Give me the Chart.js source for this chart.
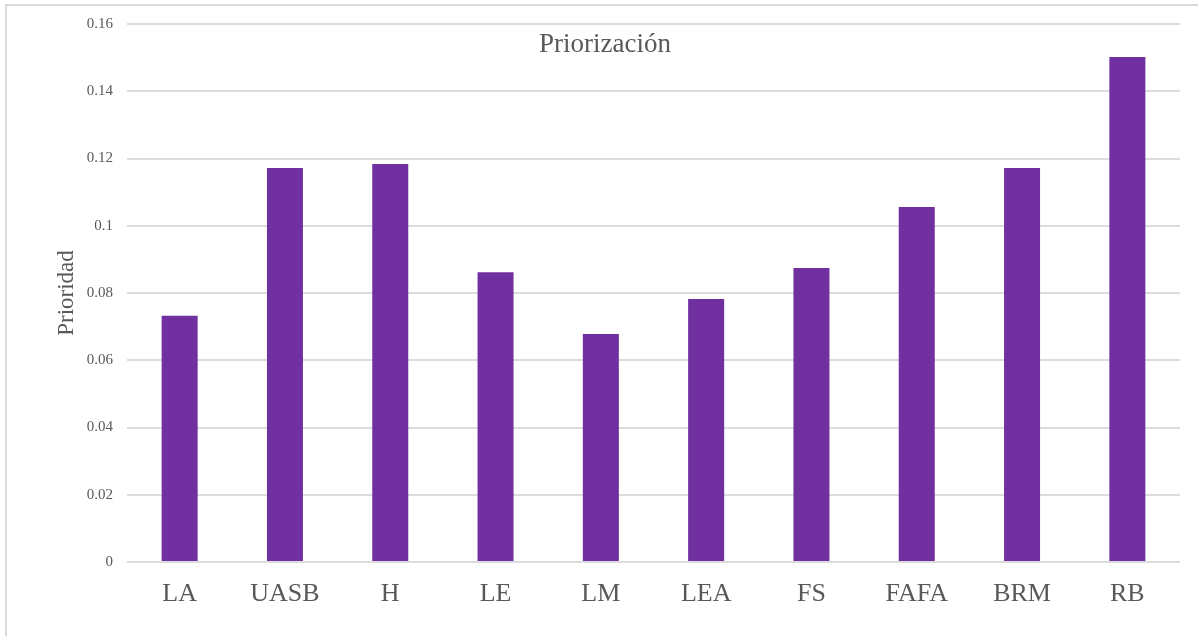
<!DOCTYPE html>
<html>
<head>
<meta charset="utf-8">
<script src="https://cdn.jsdelivr.net/npm/chart.js@4"></script>
<style>
  html,body{margin:0;padding:0;background:#fff;width:1198px;height:636px;overflow:hidden}
  #marco{position:absolute;left:5px;top:4px;width:1300px;height:700px;border-left:2px solid #d9d9d9;border-top:2px solid #d9d9d9}
  #titulo{position:absolute;left:0;width:1210px;top:30px;text-align:center;font-family:"Liberation Serif","Times New Roman",serif;font-size:27px;line-height:27px;color:#595959}
  #grafico{position:absolute;left:0;top:0}
</style>
</head>
<body>
<div id="marco"></div>
<canvas id="grafico" width="1198" height="636"></canvas>
<div id="titulo">Priorización</div>
<script>
// datos
const categorias=['LA','UASB','H','LE','LM','LEA','FS','FAFA','BRM','RB']
const prioridades=[0.0732,0.1172,0.1184,0.0862,0.0678,0.0782,0.0874,0.1056,0.1172,0.1502]
const etiquetasY=['0','0.02','0.04','0.06','0.08','0.1','0.12','0.14','0.16']

const fuente='"Liberation Serif","Times New Roman",serif'
const gris='#595959'

const data={
    labels:categorias,
    datasets:[{
        data:prioridades,
        backgroundColor:'#7030A0',
        borderWidth:0,
        barPercentage:0.342,
        categoryPercentage:1
    }]
}

const options={
    responsive:false,
    animation:false,
    layout:{padding:{left:0,top:24,right:18,bottom:0}},
    plugins:{
        legend:{display:false},
        tooltip:{enabled:false}
    },
    scales:{
        x:{
            grid:{display:false,drawTicks:false},
            border:{display:false},
            ticks:{color:gris,font:{family:fuente,size:26},padding:17},
            afterFit:s=>{s.height=74}
        },
        y:{
            min:0,max:0.16,
            grid:{color:'#dcdcdc',lineWidth:2,drawTicks:false},
            border:{display:false},
            ticks:{
                stepSize:0.02,
                color:gris,
                font:{family:fuente,size:15},
                padding:14,
                callback:(v,i)=>etiquetasY[i]
            },
            title:{
                display:true,
                text:'Prioridad',
                color:gris,
                font:{family:fuente,size:23},
                padding:{top:53,bottom:0}
            },
            afterFit:s=>{s.width=127}
        }
    }
}

new Chart('grafico',{type:'bar',data,options})
</script>
</body>
</html>
